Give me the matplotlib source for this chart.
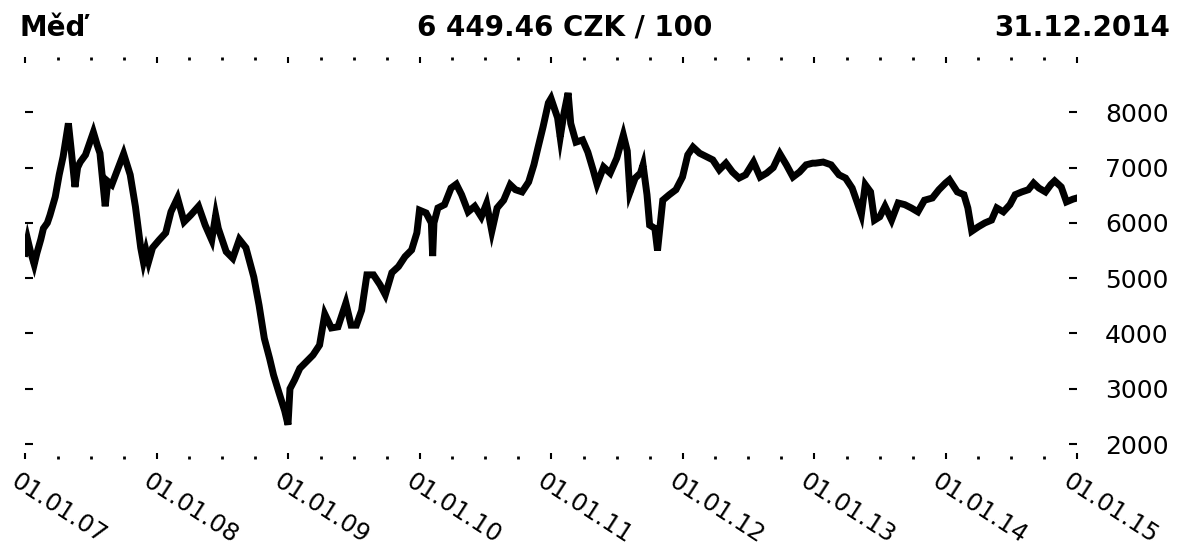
import numpy as np
import matplotlib.pyplot as plt
import matplotlib.transforms as mtransforms
from matplotlib.ticker import FixedLocator, MultipleLocator

# copper price, CZK / 100 (time as fractional year)
t = [2007.00, 2007.02, 2007.04, 2007.07, 2007.09, 2007.12, 2007.14, 2007.17,
     2007.19, 2007.23, 2007.26, 2007.29, 2007.30, 2007.33, 2007.35, 2007.38,
     2007.40, 2007.42, 2007.46, 2007.52, 2007.55, 2007.57, 2007.61, 2007.63,
     2007.66, 2007.71, 2007.75, 2007.80, 2007.84, 2007.88, 2007.90, 2007.92,
     2007.94, 2007.97, 2008.02, 2008.07, 2008.11, 2008.16, 2008.21, 2008.26,
     2008.32, 2008.37, 2008.42, 2008.45, 2008.47, 2008.53, 2008.58, 2008.63,
     2008.68, 2008.74, 2008.78, 2008.82, 2008.86, 2008.89, 2008.93, 2008.975,
     2009.00, 2009.015, 2009.05, 2009.09, 2009.14, 2009.19, 2009.24, 2009.28,
     2009.33, 2009.38, 2009.44, 2009.48, 2009.52, 2009.56, 2009.60, 2009.65,
     2009.70, 2009.74, 2009.79, 2009.84, 2009.89, 2009.94, 2009.98, 2010.00,
     2010.05, 2010.09, 2010.10, 2010.11, 2010.14, 2010.19, 2010.24, 2010.28,
     2010.32, 2010.37, 2010.42, 2010.47, 2010.51, 2010.55, 2010.59, 2010.64,
     2010.69, 2010.73, 2010.78, 2010.83, 2010.87, 2010.90, 2010.94, 2010.98,
     2011.00, 2011.05, 2011.07, 2011.10, 2011.13, 2011.15, 2011.19, 2011.24,
     2011.28, 2011.32, 2011.35, 2011.40, 2011.45, 2011.50, 2011.55, 2011.58,
     2011.60, 2011.64, 2011.68, 2011.70, 2011.73, 2011.75, 2011.79, 2011.81,
     2011.85, 2011.90, 2011.95, 2012.00, 2012.04, 2012.08, 2012.13, 2012.18,
     2012.23, 2012.28, 2012.33, 2012.38, 2012.43, 2012.48, 2012.54, 2012.59,
     2012.64, 2012.69, 2012.74, 2012.79, 2012.84, 2012.89, 2012.94, 2012.99,
     2013.01, 2013.07, 2013.13, 2013.19, 2013.24, 2013.29, 2013.33, 2013.36,
     2013.39, 2013.43, 2013.46, 2013.50, 2013.54, 2013.59, 2013.64, 2013.69,
     2013.74, 2013.79, 2013.84, 2013.90, 2013.95, 2014.00, 2014.03, 2014.09,
     2014.14, 2014.17, 2014.20, 2014.25, 2014.30, 2014.35, 2014.39, 2014.44,
     2014.49, 2014.53, 2014.58, 2014.63, 2014.67, 2014.71, 2014.76, 2014.80,
     2014.83, 2014.88, 2014.92, 2014.97, 2015.00]
price = [5450, 5700, 5500, 5250, 5450, 5700, 5900, 6000,
         6140, 6470, 6870, 7200, 7350, 7800, 7350, 6650,
         7000, 7100, 7230, 7640, 7400, 7260, 6300, 6750,
         6690, 7000, 7250, 6870, 6290, 5550, 5300, 5500,
         5300, 5550, 5690, 5820, 6200, 6450, 6020, 6140,
         6300, 5960, 5690, 6140, 5900, 5480, 5360, 5700,
         5550, 5020, 4510, 3910, 3550, 3250, 2940, 2600,
         2350, 3000, 3160, 3370, 3490, 3610, 3790, 4350,
         4100, 4120, 4550, 4150, 4150, 4420, 5060, 5060,
         4880, 4700, 5100, 5210, 5390, 5510, 5820, 6230,
         6180, 6000, 5400, 6000, 6270, 6330, 6630, 6700,
         6510, 6200, 6300, 6110, 6350, 5850, 6270, 6410,
         6690, 6600, 6560, 6740, 7050, 7350, 7740, 8170,
         8250, 7900, 7550, 8000, 8350, 7800, 7460, 7500,
         7280, 6960, 6700, 7010, 6900, 7170, 7590, 7300,
         6550, 6810, 6900, 7050, 6510, 5960, 5900, 5500,
         6410, 6510, 6600, 6830, 7230, 7370, 7260, 7200,
         7140, 6960, 7080, 6920, 6810, 6870, 7100, 6830,
         6900, 7000, 7250, 7050, 6830, 6920, 7050, 7080,
         7080, 7100, 7050, 6870, 6810, 6630, 6360, 6150,
         6690, 6560, 6050, 6110, 6300, 6050, 6360, 6330,
         6270, 6200, 6410, 6450, 6600, 6720, 6780, 6560,
         6510, 6270, 5850, 5930, 6000, 6050, 6270, 6200,
         6330, 6510, 6560, 6600, 6720, 6630, 6560, 6690,
         6760, 6650, 6380, 6430, 6450]

year_ticks = list(range(2007, 2016))
year_labels = ['01.01.07', '01.01.08', '01.01.09', '01.01.10', '01.01.11',
               '01.01.12', '01.01.13', '01.01.14', '01.01.15']
y_ticks = [2000, 3000, 4000, 5000, 6000, 7000, 8000]

W, H = 1180, 549
fig = plt.figure(figsize=(W / 100, H / 100), dpi=100)
ax = fig.add_axes([25 / W, 1 - 459 / H, (1077 - 25) / W, (459 - 57) / H])

ax.plot(t, price, color='black', lw=5, solid_joinstyle='miter')
ax.set_xlim(2007, 2015)
ax.set_ylim(1730, 9000)

for s in ax.spines.values():
    s.set_visible(False)

ax.xaxis.set_major_locator(FixedLocator(year_ticks))
ax.xaxis.set_minor_locator(MultipleLocator(0.25))
ax.set_xticklabels(year_labels, rotation=-33, ha='left', va='top',
                   rotation_mode='anchor', fontsize=17.5)
ax.tick_params(axis='x', which='major', top=True, bottom=True, direction='in',
               length=4.5, width=1.5, pad=7)
ax.tick_params(axis='x', which='minor', top=True, bottom=True, direction='in',
               length=2, width=2)
shift = mtransforms.ScaledTranslation(-5 / 100, 0, fig.dpi_scale_trans)
for lab in ax.get_xticklabels():
    lab.set_transform(lab.get_transform() + shift)

ax.yaxis.set_major_locator(FixedLocator(y_ticks))
ax.tick_params(axis='y', left=True, right=True, labelleft=False, labelright=True,
               direction='in', length=6, width=1.5, pad=20, labelsize=18)

fig.text(20 / W, 1 - 28 / H, 'Měď', fontsize=20, fontweight='bold',
         ha='left', va='center')
fig.text(565 / W, 1 - 28 / H, '6 449.46 CZK / 100', fontsize=20,
         fontweight='bold', ha='center', va='center')
fig.text(1170 / W, 1 - 28 / H, '31.12.2014', fontsize=20, fontweight='bold',
         ha='right', va='center')

fig.savefig('out.png', dpi=100)
